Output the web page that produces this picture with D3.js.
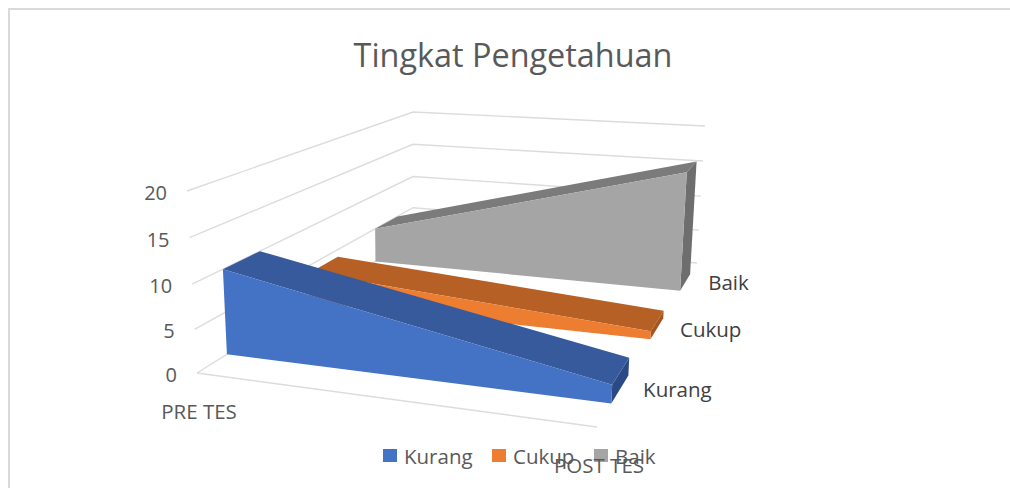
<!DOCTYPE html>
<html>
<head>
<meta charset="utf-8">
<script src="https://cdn.jsdelivr.net/npm/d3@7"></script>
<style>
    html, body { margin: 0; padding: 0; background: #fff; }
    svg { display: block; }
    text { font-family: "Open Sans", sans-serif; }
</style>
</head>
<body>
<div id="chart"></div>
<script>
const categories = ["PRE TES", "POST TES"];
const seriesNames = ["Kurang", "Cukup", "Baik"];
const kurang = [10, 2];
const cukup = [4, 1];
const baik = [5, 16];
const valueTicks = [0, 5, 10, 15, 20];

const seriesValues = { Kurang: kurang, Cukup: cukup, Baik: baik };
const faceColor = { Kurang: "#4472c4", Cukup: "#ed7d31", Baik: "#a5a5a5" };
const topColor = { Kurang: "#365a9c", Cukup: "#b66025", Baik: "#7b7b7b" };
const sideColor = { Kurang: "#2b4a85", Cukup: "#a3551f", Baik: "#6e6e6e" };

const width = 1010, height = 488;

const svg = d3.select("#chart").append("svg")
    .attr("width", width)
    .attr("height", height);

// where the box corners land on screen: [pre/front, post/front, post/back, pre/back]
const floorQuad = [[197, 373], [597, 427], [697, 263], [413, 238]];
const ceilQuad = [[187, 191], [606, 221], [705, 126], [413, 112]];

// unit square -> quad, keeps the perspective of the depth axis
function quadMap(q) {
    let [a, b, c, d] = q;
    let sx = a[0] - b[0] + c[0] - d[0], sy = a[1] - b[1] + c[1] - d[1];
    let x1 = b[0] - c[0], y1 = b[1] - c[1], x2 = d[0] - c[0], y2 = d[1] - c[1];
    let den = x1 * y2 - y1 * x2;
    let g = (sx * y2 - sy * x2) / den;
    let h = (x1 * sy - y1 * sx) / den;
    return function (u, v) {
        let w = g * u + h * v + 1;
        return [
            ((b[0] - a[0] + g * b[0]) * u + (d[0] - a[0] + h * d[0]) * v + a[0]) / w,
            ((b[1] - a[1] + g * b[1]) * u + (d[1] - a[1] + h * d[1]) * v + a[1]) / w
        ];
    };
}
const floorAt = quadMap(floorQuad), ceilAt = quadMap(ceilQuad);

const xScale = d3.scalePoint().domain(categories).range([0, 1]);
const depthScale = d3.scaleBand().domain(seriesNames).range([0, 1])
    .paddingInner(0.6).paddingOuter(0.3);
// wall lines get a little wider going up
const yScale = d3.scaleLinear().domain(valueTicks).range([0, 0.24, 0.488, 0.744, 1]);

function project(u, v, value) {
    let f = floorAt(u, v), c = ceilAt(u, v), k = yScale(value);
    return [f[0] + (c[0] - f[0]) * k, f[1] + (c[1] - f[1]) * k];
}

const poly = d3.line().curve(d3.curveLinearClosed);
const open = d3.line();

// frame of the chart area
svg.append("path")
    .attr("d", open([[9, height], [9, 9], [width, 9]]))
    .attr("fill", "none")
    .attr("stroke", "#d9d9d9")
    .attr("stroke-width", 2);

// walls
let grid_g = svg.append("g")
    .attr("fill", "none")
    .attr("stroke", "#dcdcdc")
    .attr("stroke-width", 1.4);
valueTicks.forEach(function (t) {
    grid_g.append("path").attr("d", open([project(0, 0, t), project(0, 1, t), project(1, 1, t)]));
});
grid_g.append("path").attr("d", open([project(0, 0, 0), project(1, 0, 0)]));

// back to front so the blue one covers the others
seriesNames.slice().reverse().forEach(function (name) {
    let vals = seriesValues[name];
    let pre = xScale(categories[0]), post = xScale(categories[1]);
    let d0 = depthScale(name), d1 = d0 + depthScale.bandwidth();
    let g = svg.append("g");

    g.append("path")
        .attr("d", poly([project(post, d0, 0), project(post, d1, 0), project(post, d1, vals[1]), project(post, d0, vals[1])]))
        .attr("fill", sideColor[name]);
    g.append("path")
        .attr("d", poly([project(pre, d0, vals[0]), project(post, d0, vals[1]), project(post, d1, vals[1]), project(pre, d1, vals[0])]))
        .attr("fill", topColor[name]);
    g.append("path")
        .attr("d", poly([project(pre, d0, 0), project(post, d0, 0), project(post, d0, vals[1]), project(pre, d0, vals[0])]))
        .attr("fill", faceColor[name]);
});

// value axis labels follow the wall
svg.append("g").selectAll("text")
    .data(valueTicks)
    .join("text")
    .attr("x", d => project(0, 0, d)[0] - 20)
    .attr("y", d => project(0, 0, d)[1] + 2)
    .attr("dy", "0.35em")
    .attr("text-anchor", "end")
    .attr("font-size", 20)
    .attr("fill", "#595959")
    .text(d => d);

// depth labels
svg.append("g").selectAll("text")
    .data(seriesNames)
    .join("text")
    .attr("x", d => project(1, depthScale(d) + depthScale.bandwidth() / 2, 0)[0] + 23)
    .attr("y", d => project(1, depthScale(d) + depthScale.bandwidth() / 2, 0)[1] + 1)
    .attr("dy", "0.35em")
    .attr("font-size", 20.5)
    .attr("fill", "#404040")
    .text(d => d);

// legend sits under the category labels
let legendX = d3.scaleOrdinal().domain(seriesNames).range([383, 492, 594]);
let legend = svg.append("g").selectAll("g")
    .data(seriesNames)
    .join("g")
    .attr("transform", d => "translate(" + legendX(d) + ",449)");
legend.append("rect")
    .attr("width", 14)
    .attr("height", 13)
    .attr("fill", d => faceColor[d]);
legend.append("text")
    .attr("x", 21)
    .attr("y", 8)
    .attr("dy", "0.35em")
    .attr("font-size", 20.5)
    .attr("fill", "#595959")
    .text(d => d);

// category labels
svg.append("g").selectAll("text")
    .data(categories)
    .join("text")
    .attr("x", d => project(xScale(d), 0, 0)[0] + 2)
    .attr("y", d => project(xScale(d), 0, 0)[1] + 39)
    .attr("dy", "0.35em")
    .attr("text-anchor", "middle")
    .attr("font-size", 20.5)
    .attr("fill", "#595959")
    .text(d => d);

svg.append("text")
    .attr("x", 513)
    .attr("y", 67)
    .attr("text-anchor", "middle")
    .attr("font-size", 32.4)
    .attr("fill", "#595959")
    .text("Tingkat Pengetahuan");
</script>
</body>
</html>
